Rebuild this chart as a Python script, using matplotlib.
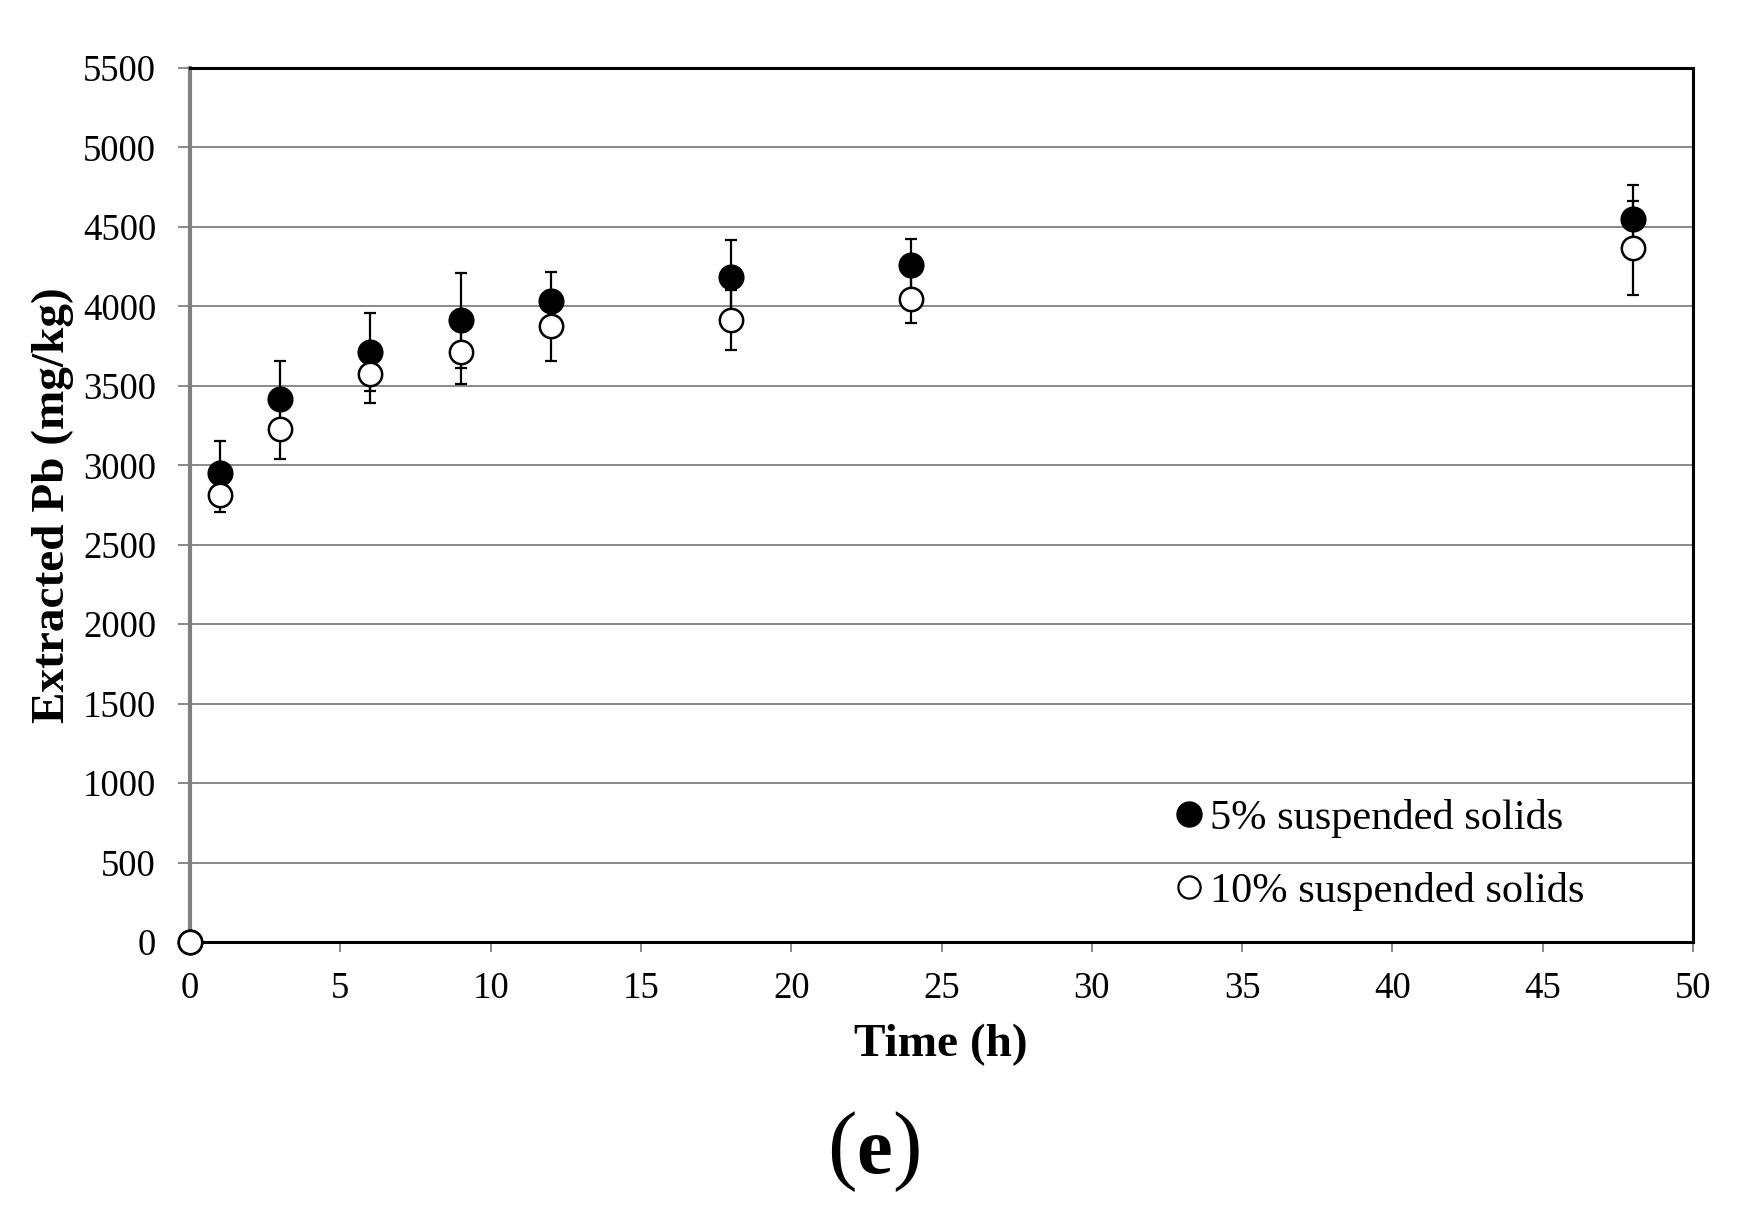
import matplotlib
matplotlib.use("Agg")
import matplotlib.pyplot as plt
from matplotlib.lines import Line2D
from matplotlib.offsetbox import TextArea, HPacker, AnchoredOffsetbox

plt.rcParams['font.family'] = ['Liberation Serif', 'DejaVu Serif']

# Data
time_h = [0, 1, 3, 6, 9, 12, 18, 24, 48]
pb_5 = [0, 2950, 3420, 3715, 3912, 4035, 4186, 4259, 4552]
err_5 = [0, 200, 236, 245, 298, 182, 230, 168, 214]
pb_10 = [0, 2813, 3228, 3573, 3712, 3877, 3913, 4045, 4368]
err_10 = [0, 110, 190, 180, 203, 220, 189, 149, 297]
labels = ["5% suspended solids", "10% suspended solids"]
x_ticks = list(range(0, 51, 5))
y_ticks = list(range(0, 5501, 500))

fig = plt.figure(figsize=(17.42, 12.08), dpi=100)
ax = fig.add_axes([0.1091, 0.2202, 0.9719 - 0.1091, 0.9437 - 0.2202])

grey = '#808080'
ax.set_xlim(0, 50)
ax.set_ylim(0, 5500)
ax.set_xticks(x_ticks)
ax.set_yticks(y_ticks)
ax.yaxis.grid(True, color=grey, lw=1.3)
ax.set_axisbelow(True)

ax.errorbar(time_h, pb_5, yerr=err_5, fmt='none', ecolor='black', elinewidth=1.6,
            capsize=4.5, capthick=1.6, zorder=2, clip_on=False)
ax.errorbar(time_h, pb_10, yerr=err_10, fmt='none', ecolor='black', elinewidth=1.6,
            capsize=4.5, capthick=1.6, zorder=2, clip_on=False)
ax.plot(time_h, pb_5, 'o', ms=17.8, mfc='black', mec='black', mew=1.0, zorder=3, clip_on=False)
ax.plot(time_h, pb_10, 'o', ms=16.8, mfc='white', mec='black', mew=1.8, zorder=4, clip_on=False)

for s in ['top', 'right']:
    ax.spines[s].set_color('black')
    ax.spines[s].set_linewidth(2.2)
ax.spines['bottom'].set_color('black')
ax.spines['bottom'].set_linewidth(2.2)
ax.spines['left'].set_color(grey)
ax.spines['left'].set_linewidth(3.0)

ax.tick_params(axis='y', direction='out', length=8.5, width=1.3, color=grey,
               labelsize=26.5, pad=16)
ax.tick_params(axis='x', direction='out', length=7.5, width=1.3, color=grey,
               labelsize=26.5, pad=14)

fig.text(0.0305, 0.582, 'Extracted Pb (mg/kg)', rotation=90, ha='center', va='center',
         fontsize=34, fontweight='bold')
fig.text(0.540, 0.135, 'Time (h)', ha='center', va='center', fontsize=34, fontweight='bold')

handles = [
    Line2D([], [], ls='none', marker='o', ms=18, mfc='black', mec='black'),
    Line2D([], [], ls='none', marker='o', ms=16, mfc='white', mec='black', mew=1.6),
]
fig.legend(handles, labels, loc='center left', bbox_to_anchor=(0.673, 0.2923),
           frameon=False, fontsize=30.5, borderpad=0, borderaxespad=0,
           handlelength=0.8, handletextpad=0.1, labelspacing=0.81)

ta1 = TextArea('(', textprops=dict(fontsize=64, fontweight='normal'))
ta2 = TextArea('e', textprops=dict(fontsize=58, fontweight='bold'))
ta3 = TextArea(')', textprops=dict(fontsize=64, fontweight='normal'))
pack = HPacker(children=[ta1, ta2, ta3], align='baseline', pad=0, sep=0)
anch = AnchoredOffsetbox(loc='center', child=pack, frameon=False,
                         bbox_to_anchor=(0.502, 0.047), bbox_transform=fig.transFigure,
                         pad=0, borderpad=0)
fig.add_artist(anch)

fig.savefig('out.png', dpi=100)
